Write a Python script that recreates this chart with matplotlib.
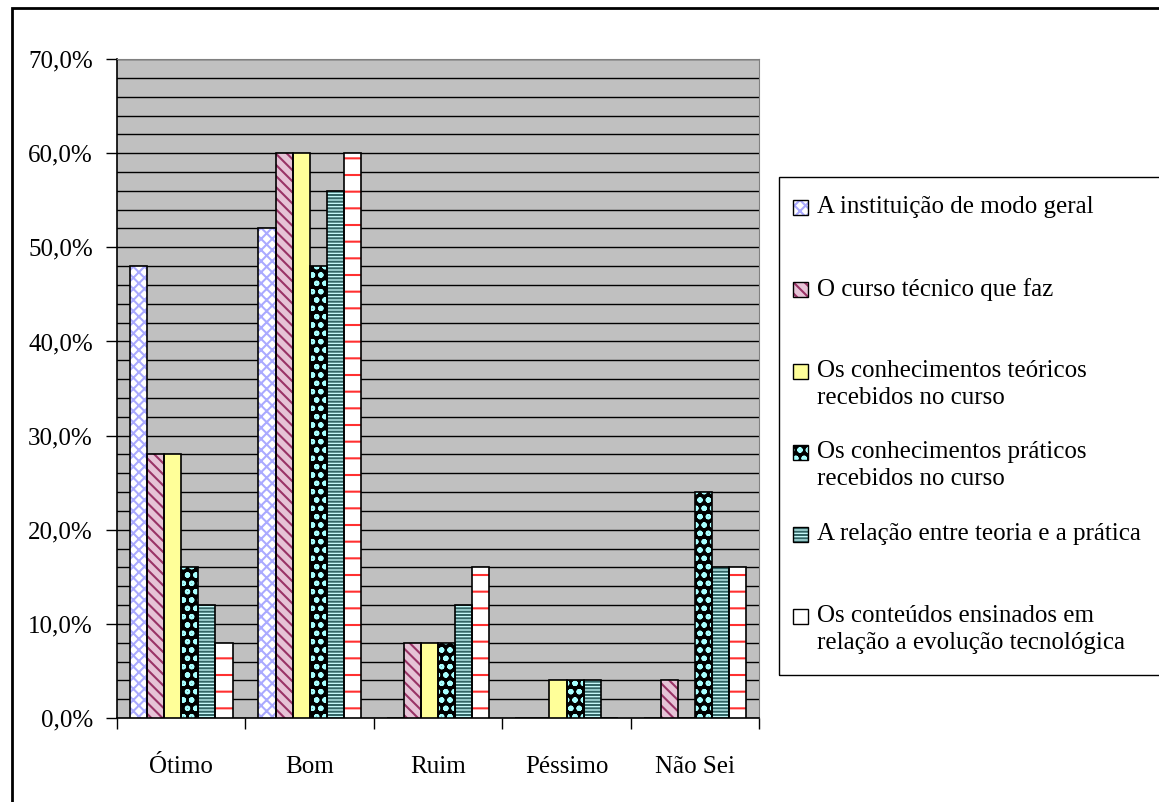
import numpy as np
import matplotlib
matplotlib.use("Agg")
import matplotlib.pyplot as plt
from matplotlib.patches import Rectangle
from matplotlib.ticker import MultipleLocator, FuncFormatter

# --- Data ---
categories = ["Ótimo", "Bom", "Ruim", "Péssimo", "Não Sei"]
series_labels = [
    "A instituição de modo geral",
    "O curso técnico que faz",
    "Os conhecimentos teóricos\nrecebidos no curso",
    "Os conhecimentos práticos\nrecebidos no curso",
    "A relação entre teoria e a prática",
    "Os conteúdos ensinados em\nrelação a evolução tecnológica",
]
instituicao = [48, 52, 0, 0, 0]
curso = [28, 60, 8, 0, 4]
teoricos = [28, 60, 8, 4, 0]
praticos = [16, 48, 8, 4, 24]
relacao = [12, 56, 12, 4, 16]
conteudos = [8, 60, 16, 0, 16]
series = [instituicao, curso, teoricos, praticos, relacao, conteudos]

# face colour, hatch, hatch colour
styles = [
    ("white", "xxx", "#AAAAFF"),
    ("#E6C3D6", "\\\\\\", "#993366"),
    ("#FFFF99", "", "#FFFF99"),
    ("black", "oo", "#A8FFFF"),
    ("#CCFFFF", "-----", "#336666"),
    ("white", "-", "#FF3030"),
]

plt.rcParams["font.family"] = ["Liberation Serif", "DejaVu Serif"]
plt.rcParams["hatch.linewidth"] = 1.5
FS = 18

fig = plt.figure(figsize=(11.59, 8.02), dpi=100)
ax = fig.add_axes([0.101, 0.1047, 0.554, 0.8217])
ax.set_facecolor("#C0C0C0")

x = np.arange(len(categories))
w = 0.133
for j, vals in enumerate(series):
    face, hatch, hcol = styles[j]
    pos = x + (j - 2.5) * w
    ax.bar(pos, vals, w, color=face, edgecolor=hcol, linewidth=0, hatch=hatch, zorder=3)
    ax.bar(pos, vals, w, fill=False, edgecolor="black", linewidth=1.2, zorder=4)

ax.set_xlim(-0.5, len(categories) - 0.5)
ax.set_ylim(0, 70)
ax.yaxis.set_major_locator(MultipleLocator(10))
ax.yaxis.set_minor_locator(MultipleLocator(2))
ax.yaxis.set_major_formatter(FuncFormatter(lambda v, p: f"{v:.1f}%".replace(".", ",")))
ax.grid(which="both", axis="y", color="black", linewidth=1, zorder=1)
ax.set_axisbelow(True)

ax.set_xticks(np.arange(len(categories) + 1) - 0.5)
ax.set_xticklabels([])
ax.set_xticks(x, minor=True)
ax.set_xticklabels(categories, minor=True)
ax.tick_params(axis="x", which="major", length=8, width=1, direction="out")
ax.tick_params(axis="x", which="minor", length=0, pad=27, labelsize=FS)
ax.tick_params(axis="y", which="major", length=8, width=1, pad=9.5, labelsize=FS)
ax.tick_params(axis="y", which="minor", length=0)

for s in ["top", "right"]:
    ax.spines[s].set_color("#808080")
for s in ["left", "bottom"]:
    ax.spines[s].set_color("black")
    ax.spines[s].set_linewidth(1.2)

W, H = 1159, 802
# outer frame
fig.patches.append(Rectangle((12 / W, -0.01), 1.0, 1 - 8 / H + 0.01,
                             transform=fig.transFigure, fill=False,
                             edgecolor="black", linewidth=2))

# legend box (drawn by hand so handles sit on first line)
fig.patches.append(Rectangle((779 / W, 1 - 675 / H), 1.0, (675 - 177) / H,
                             transform=fig.transFigure, fill=False,
                             edgecolor="black", linewidth=1))
first_lines = [208, 290, 372, 453, 535, 617]
for j, lab in enumerate(series_labels):
    face, hatch, hcol = styles[j]
    yc = first_lines[j]
    fig.patches.append(Rectangle((793 / W, 1 - (yc + 7) / H), 15 / W, 15 / H,
                                 transform=fig.transFigure, facecolor=face,
                                 edgecolor=hcol, linewidth=0, hatch=hatch))
    fig.patches.append(Rectangle((793 / W, 1 - (yc + 7) / H), 15 / W, 15 / H,
                                 transform=fig.transFigure, fill=False,
                                 edgecolor="black", linewidth=1))
    fig.text(817 / W, 1 - (yc - 12) / H, lab, fontsize=FS, va="top", ha="left",
             linespacing=1.3)

fig.savefig("out.png", dpi=100)
